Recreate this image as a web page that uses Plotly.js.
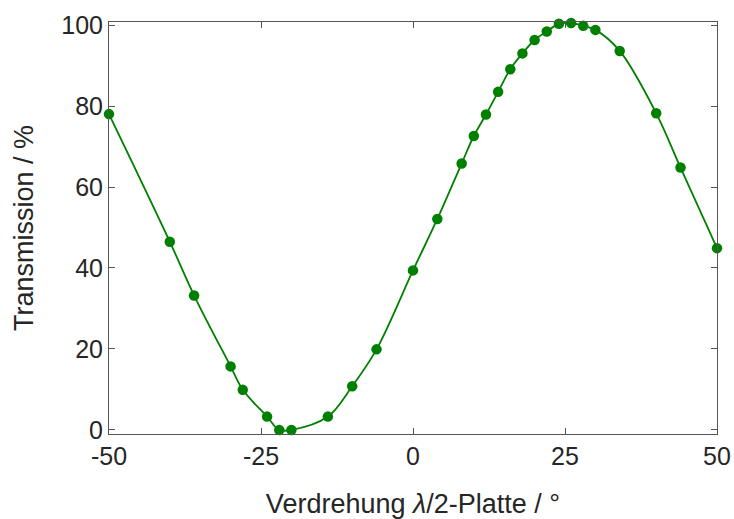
<!DOCTYPE html>
<html>
<head>
<meta charset="utf-8">
<script src="https://cdn.plot.ly/plotly-3.0.1.min.js"></script>
<style>html,body{margin:0;padding:0;background:#fff;}#chart{width:734px;height:519px;}</style>
</head>
<body>
<div id="chart"></div>
<script>
// Rotation of the lambda/2 plate (degrees)
const angle = [-50, -40, -36, -30, -28, -24, -22, -20, -14, -10, -6, 0, 4, 8, 10, 12, 14, 16, 18, 20, 22, 24, 26, 28, 30, 34, 40, 44, 50];
// Transmission (%)
const transmission = [78.0, 46.5, 33.2, 15.7, 9.9, 3.3, 0.0, 0.0, 3.3, 10.8, 19.9, 39.4, 52.1, 65.8, 72.6, 77.9, 83.5, 89.1, 93.0, 96.3, 98.4, 100.3, 100.5, 99.8, 98.8, 93.6, 78.2, 64.8, 44.9];
const xTicks = [-50, -25, 0, 25, 50];
const yTicks = [0, 20, 40, 60, 80, 100];

const green = '#008000';
const txt = '#262626';
const axisCol = '#555555';

const traces = [
  {
    x: angle, y: transmission, type: 'scatter', mode: 'lines',
    line: {color: green, width: 1.8, shape: 'spline', smoothing: 1},
    hoverinfo: 'skip', showlegend: false, cliponaxis: false
  },
  {
    x: angle, y: transmission, type: 'scatter', mode: 'markers',
    marker: {color: green, size: 10.5}, showlegend: false, cliponaxis: false
  }
];

const axisCommon = {
  showgrid: false, zeroline: false, showline: true, linecolor: axisCol, linewidth: 1,
  mirror: 'ticks', ticks: 'inside', ticklen: 6, tickwidth: 1, tickcolor: axisCol,
  tickfont: {family: 'Liberation Sans, Arial, sans-serif', size: 25, color: txt}
};

const layout = {
  width: 734, height: 519,
  margin: {l: 109, r: 17, t: 22, b: 85},
  paper_bgcolor: '#ffffff', plot_bgcolor: '#ffffff',
  font: {family: 'Liberation Sans, Arial, sans-serif', color: txt},
  xaxis: Object.assign({}, axisCommon, {
    range: [-50, 50], tickvals: xTicks, ticktext: xTicks.map(String),
    title: {text: 'Verdrehung <i>λ</i>/2-Platte / °', font: {size: 27, color: txt}, standoff: 26}
  }),
  yaxis: Object.assign({}, axisCommon, {
    range: [-1, 100.75], tickvals: yTicks, ticktext: yTicks.map(String),
    title: {text: 'Transmission / %', font: {size: 27, color: txt}, standoff: 19}
  })
};

Plotly.newPlot('chart', traces, layout, {displayModeBar: false, staticPlot: true});
</script>
</body>
</html>
